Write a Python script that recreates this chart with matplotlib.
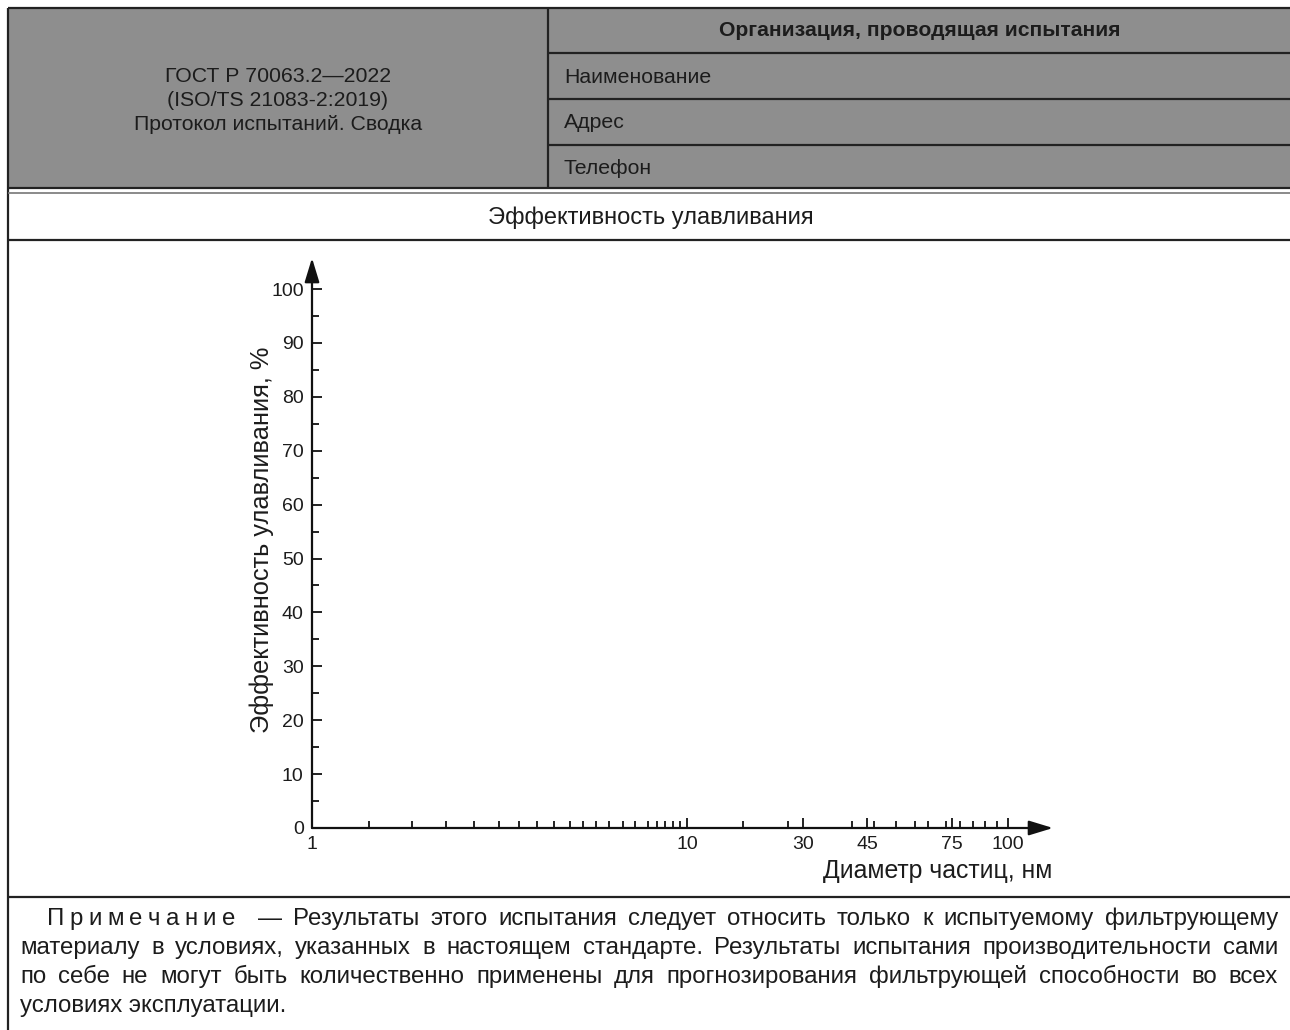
import numpy as np
import matplotlib
matplotlib.use("Agg")
import matplotlib.pyplot as plt
from matplotlib.lines import Line2D
from matplotlib.patches import Rectangle
from matplotlib.ticker import FixedLocator, FixedFormatter, NullFormatter

plt.rcParams['font.family'] = ['Liberation Sans', 'DejaVu Sans']

# ---------------- data ----------------
header_left = ["ГОСТ Р 70063.2\u20142022", "(ISO/TS 21083-2:2019)", "Протокол испытаний. Сводка"]
header_right_title = "Организация, проводящая испытания"
header_right_rows = ["Наименование", "Адрес", "Телефон"]
section_title = "Эффективность улавливания"

y_major = [0, 10, 20, 30, 40, 50, 60, 70, 80, 90, 100]
y_minor = [5, 15, 25, 35, 45, 55, 65, 75, 85, 95]
x_major = [1, 10, 30, 45, 75, 100]
x_major_labels = ["1", "10", "30", "45", "75", "100"]
x_minor = [1.42, 1.85, 2.28, 2.7, 3.15, 3.56, 3.98, 4.42, 4.88, 5.28, 5.72, 6.2,
           6.75, 7.27, 7.87, 8.32, 8.73, 9.18, 9.58,
           17, 26, 41, 47, 53.5, 60, 65, 72.5, 78, 83.5, 89, 94.5]
x_label = "Диаметр частиц, нм"
y_label = "Эффективность улавливания, %"

note_head = "Примечание"
note_lines = [
    "— Результаты этого испытания следует относить только к испытуемому фильтрующему",
    "материалу в условиях, указанных в настоящем стандарте. Результаты испытания производительности сами",
    "по себе не могут быть количественно применены для прогнозирования фильтрующей способности во всех",
    "условиях эксплуатации.",
]

# schematic (non-uniform) x scale: anchor values and their relative positions
scale_anchor_vals = [1, 10, 30, 45, 75, 100]
scale_anchor_pos = [0, 375, 491, 555, 640, 696]

# ---------------- figure ----------------
W, H = 1290, 1030
fig = plt.figure(figsize=(W / 100, H / 100), dpi=100)
fig.patch.set_facecolor("white")
renderer = fig.canvas.get_renderer()
TXT = "#1c1c1c"
LINE = "#222222"


def fx(x):
    return x / W


def fy(y):
    return 1 - y / H


def hline(y, x0, x1, lw=1.6, color=LINE):
    fig.add_artist(Line2D([fx(x0), fx(x1)], [fy(y), fy(y)], transform=fig.transFigure,
                          color=color, lw=lw, solid_capstyle="butt"))


def vline(x, y0, y1, lw=1.6, color=LINE):
    fig.add_artist(Line2D([fx(x), fx(x)], [fy(y0), fy(y1)], transform=fig.transFigure,
                          color=color, lw=lw, solid_capstyle="butt"))


def text_width(s, size, **kw):
    t = fig.text(0, 0, s, fontsize=size, **kw)
    w = t.get_window_extent(renderer).width
    t.remove()
    return w


def fit_size(s, target, base=14, **kw):
    return base * target / text_width(s, base, **kw)


def justify(words, x0, x1, y, size, **kw):
    widths = [text_width(w, size, **kw) for w in words]
    gap = (x1 - x0 - sum(widths)) / max(len(words) - 1, 1)
    x = x0
    for w, wd in zip(words, widths):
        fig.text(fx(x), fy(y), w, fontsize=size, ha="left", va="center", color=TXT, **kw)
        x += wd + gap


# header grey block
fig.add_artist(Rectangle((fx(8), fy(188)), fx(1290) - fx(8), fy(8) - fy(188),
                         transform=fig.transFigure, facecolor="#8e8e8e", edgecolor="none"))

# frame lines
hline(8, 8, 1290)
vline(8, 8, 1030)
vline(548, 8, 188)
for yy in (53, 99, 145):
    hline(yy, 548, 1290)
hline(188, 8, 1290)
hline(193, 8, 1290, lw=1.2, color="#777777")
hline(240, 8, 1290)
hline(897, 8, 1290)

# header texts
hs = fit_size(header_left[0], 227)
for s, yy in zip(header_left, (76, 100, 124)):
    fig.text(fx(278), fy(yy), s, fontsize=hs, ha="center", va="center", color=TXT)

bs = fit_size(header_right_title, 403, fontweight="bold")
fig.text(fx(920), fy(31), header_right_title, fontsize=bs, fontweight="bold",
         ha="center", va="center", color=TXT)
for s, yy in zip(header_right_rows, (77, 123, 169)):
    fig.text(fx(564), fy(yy), s, fontsize=hs, ha="left", va="center", color=TXT)

ts = fit_size(section_title, 329)
fig.text(fx(651), fy(218), section_title, fontsize=ts, ha="center", va="center", color=TXT)

# ---------------- axes ----------------
ax = fig.add_axes([fx(312), fy(828), (1008 - 312) / W, (828 - 289) / H])
la = np.log10(scale_anchor_vals)
pa = np.array(scale_anchor_pos, dtype=float) / scale_anchor_pos[-1]


def fwd(x):
    x = np.asarray(x, dtype=float)
    return np.interp(np.log10(np.clip(x, 1e-6, None)), la, pa, left=-1, right=2)


def inv(p):
    p = np.asarray(p, dtype=float)
    return 10 ** np.interp(p, pa, la)


ax.set_xscale("function", functions=(fwd, inv))
ax.set_xlim(1, 100)
ax.set_ylim(0, 100)
ax.patch.set_visible(False)
for sp in ax.spines.values():
    sp.set_visible(False)

ax.xaxis.set_major_locator(FixedLocator(x_major))
ax.xaxis.set_major_formatter(FixedFormatter(x_major_labels))
ax.xaxis.set_minor_locator(FixedLocator(x_minor))
ax.xaxis.set_minor_formatter(NullFormatter())
ax.yaxis.set_major_locator(FixedLocator(y_major))
ax.yaxis.set_minor_locator(FixedLocator(y_minor))
ax.yaxis.set_minor_formatter(NullFormatter())

ax.tick_params(which="both", direction="in", width=1.4, color=LINE, labelcolor=TXT,
               labelsize=14)
ax.tick_params(which="major", length=7.5)
ax.tick_params(which="minor", length=5)
ax.tick_params(axis="y", which="major", pad=6)
ax.tick_params(axis="x", which="major", pad=6)

arrow_kw = dict(arrowstyle="-|>,head_length=1.05,head_width=0.32", color="#111111",
                lw=1.6, shrinkA=0, shrinkB=0, mutation_scale=14)
ax.annotate("", xy=(1.0647, 0), xytext=(0, 0), xycoords="axes fraction",
            textcoords="axes fraction", arrowprops=arrow_kw, annotation_clip=False)
ax.annotate("", xy=(0, 1.0575), xytext=(0, 0), xycoords="axes fraction",
            textcoords="axes fraction", arrowprops=arrow_kw, annotation_clip=False)

xs = fit_size(x_label, 232)
fig.text(fx(1052), fy(871), x_label, fontsize=xs, ha="right", va="center", color=TXT)
ys = fit_size(y_label, 390)
fig.text(fx(262), fy(540), y_label, fontsize=ys, rotation=90, ha="center", va="center",
         color=TXT)

# ---------------- note ----------------
ns = fit_size(note_lines[1], 1225)
justify(list(note_head), 47, 235, 919, ns)
justify(note_lines[0].split(), 258, 1278, 919, ns)
justify(note_lines[1].split(), 20, 1278, 948, ns)
justify(note_lines[2].split(), 20, 1278, 977, ns)
fig.text(fx(20), fy(1006), note_lines[3], fontsize=ns, ha="left", va="center", color=TXT)

fig.savefig("out.png", dpi=100, facecolor="white")
